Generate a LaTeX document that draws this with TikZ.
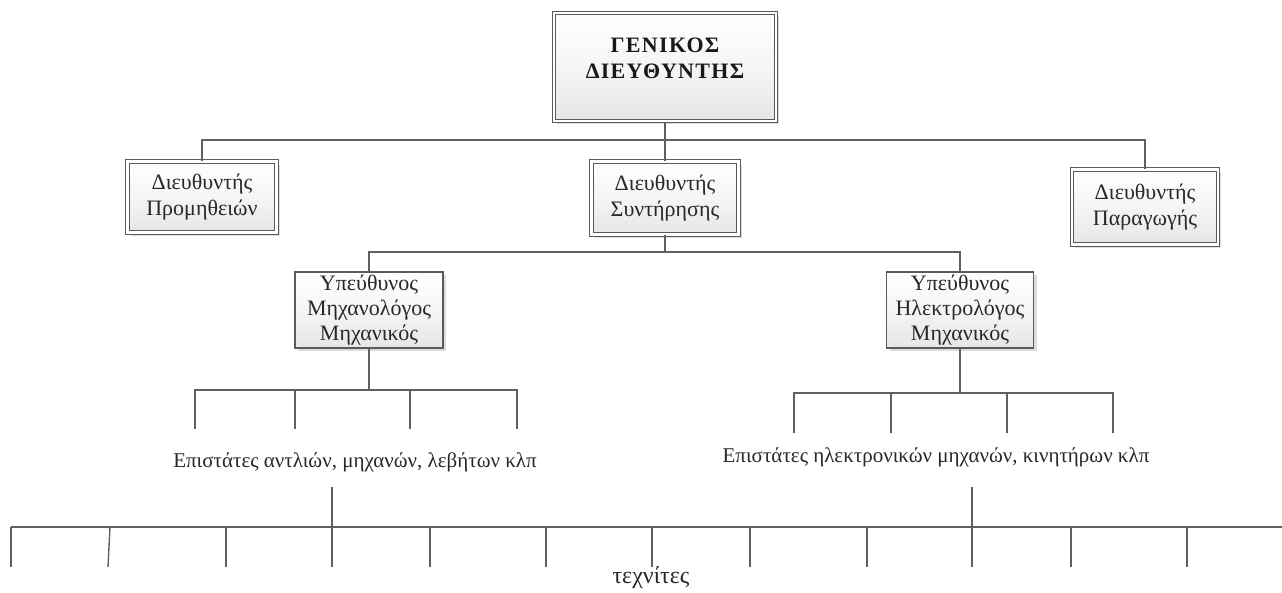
\documentclass[tikz,border=0pt]{standalone}
\usepackage{fontspec}
\setmainfont{Liberation Serif}
\usetikzlibrary{shadows}
\definecolor{linegray}{RGB}{95,95,95}
\definecolor{boxline}{RGB}{90,90,90}
\definecolor{boxlow}{RGB}{230,230,230}
\definecolor{inkgray}{RGB}{40,40,40}
\tikzset{
  conn/.style={draw=linegray, line width=1.4pt},
  boxfill/.style={top color=white, bottom color=boxlow, middle color=white!60!boxlow},
  dblbox/.style={rectangle, boxfill, draw=boxline, line width=1.1pt,
    double=white, double distance=2.2pt, align=center, inner sep=2pt,
    font=\fontsize{22}{26}\selectfont, text=inkgray,
    drop shadow={shadow xshift=3pt, shadow yshift=-3pt, fill=black!22, opacity=0.6}},
  sglbox/.style={rectangle, boxfill, draw=boxline, line width=1.2pt,
    align=center, inner sep=2pt, font=\fontsize{22}{25}\selectfont, text=inkgray,
    drop shadow={shadow xshift=3pt, shadow yshift=-3pt, fill=black!22, opacity=0.6}},
  lbl/.style={align=center, inner sep=1pt, font=\fontsize{21}{25}\selectfont, text=inkgray},
}
\begin{document}
\begin{tikzpicture}[x=1pt, y=-1pt]
\useasboundingbox (0,0) rectangle (1282,592);

% general manager
\node[dblbox, minimum width=222pt, minimum height=108pt] (gm) at (665,67) {};
\node[lbl, text=black!90, font=\fontsize{22}{26}\selectfont\bfseries\addfontfeature{LetterSpace=6}] (gmt) at (665,58) {ΓΕΝΙΚΟΣ\\ΔΙΕΥΘΥΝΤΗΣ};

% directors
\node[dblbox, minimum width=149pt, minimum height=71pt] (prom) at (202,197) {Διευθυντής\\Προμηθειών};
\node[dblbox, minimum width=147pt, minimum height=73pt] (synt) at (665,198) {Διευθυντής\\Συντήρησης};
\node[dblbox, minimum width=146pt, minimum height=75pt] (parag) at (1145,207) {Διευθυντής\\Παραγωγής};

% engineers
\node[sglbox, minimum width=148pt, minimum height=76pt] (mech) at (369,310) {Υπεύθυνος\\Μηχανολόγος\\Μηχανικός};
\node[sglbox, minimum width=147pt, minimum height=76pt] (elec) at (960,310) {Υπεύθυνος\\Ηλεκτρολόγος\\Μηχανικός};

% foremen
\node[lbl] (fm) at (355,462) {Επιστάτες αντλιών, μηχανών, λεβήτων κλπ};
\node[lbl] (fe) at (936,457) {Επιστάτες ηλεκτρονικών μηχανών, κινητήρων κλπ};

% technicians
\node[lbl, font=\fontsize{24}{28}\selectfont] (tech) at (651,578) {τεχνίτες};

% level 1
\coordinate (j1) at (665,140);
\draw[conn] (gm.south) -- (synt.north);
\draw[conn] (prom.north) |- (j1) -| (parag.north);

% level 2
\coordinate (j2) at (665,252);
\draw[conn] (synt.south) -- (j2);
\draw[conn] (mech.north) |- (j2) -| (elec.north);

% mechanical foremen
\coordinate (jm) at (369,390);
\draw[conn] (mech.south) -- (jm);
\foreach \n/\x in {m1/195, m2/295, m3/410, m4/517}{
  \coordinate (\n) at (\x,429);
}
\draw[conn] (m1) -- (m1 |- jm) -- (m4 |- jm) -- (m4);
\draw[conn] (m2) -- (m2 |- jm);
\draw[conn] (m3) -- (m3 |- jm);

% electrical foremen
\coordinate (je) at (960,393);
\draw[conn] (elec.south) -- (je);
\foreach \n/\x in {e1/794, e2/891, e3/1007, e4/1113}{
  \coordinate (\n) at (\x,433);
}
\draw[conn] (e1) -- (e1 |- je) -- (e4 |- je) -- (e4);
\draw[conn] (e2) -- (e2 |- je);
\draw[conn] (e3) -- (e3 |- je);

% technicians bus
\coordinate (bl) at (11,527);
\coordinate (br) at (1282,527);
\coordinate (fmd) at (332,487);
\coordinate (fed) at (972,487);
\draw[conn] (bl) -- (br);
\draw[conn] (fmd) -- (332,567);
\draw[conn] (fed) -- (972,567);
\foreach \x in {11,226,430,546,652,750,867,1071,1187}{
  \draw[conn] (\x,527) -- (\x,567);
}
\draw[conn] (110,527) -- (108,567);
\end{tikzpicture}
\end{document}
